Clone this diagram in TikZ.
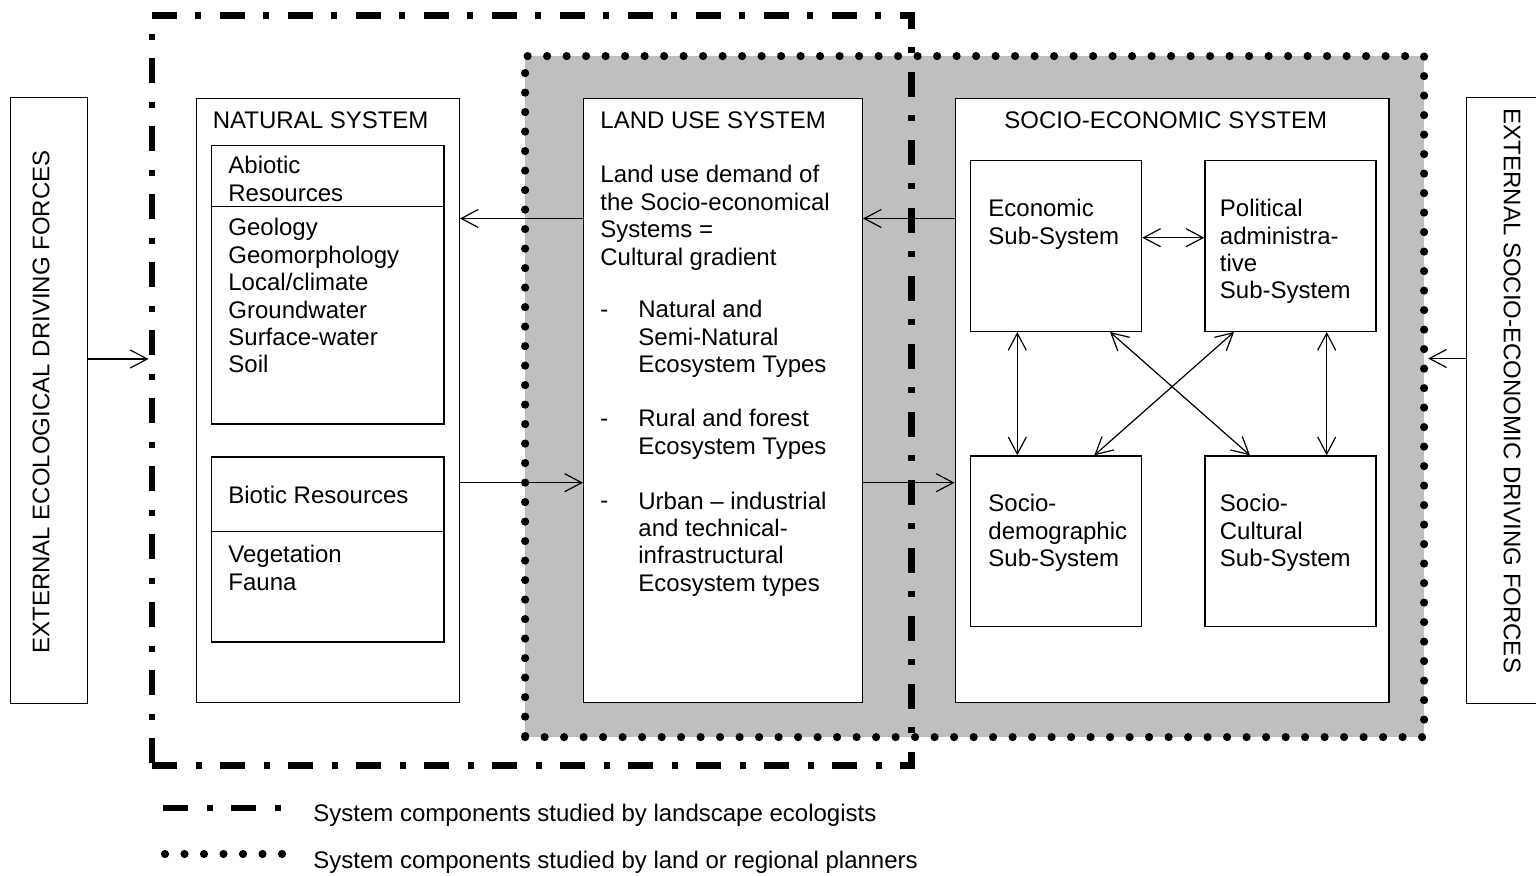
\documentclass[tikz,border=0pt]{standalone}
\usepackage{fontspec}
\setmainfont{Liberation Sans}
\usetikzlibrary{positioning, arrows.meta}

\begin{document}
\begin{tikzpicture}[
    x=0.5pt, y=-0.5pt,
    font=\fontsize{12}{13.7}\selectfont,
    box/.style={draw, line width=0.65pt, fill=white, inner sep=0pt, anchor=north west},
    subbox/.style={box, minimum width=85.5pt, minimum height=85.35pt},
    txt/.style={inner sep=0pt, anchor=base west, align=left},
    arrow/.style={-{Straight Barb[length=8.5pt, width=9pt]}, line width=0.6pt},
    twoway/.style={{Straight Barb[length=8.5pt, width=9pt]}-{Straight Barb[length=8.5pt, width=9pt]}, line width=0.6pt},
    ecoline/.style={line width=3.3pt, dash pattern=on 12.5pt off 9.5pt on 3pt off 9pt},
    planline/.style={line width=4.1pt, line cap=round, dash pattern=on 0pt off 9.75pt},
]
\useasboundingbox (0,0) rectangle (1536,876);
\clip (0,0) rectangle (1536,876);

% Study frames
\node[draw, planline, fill=black!25, inner sep=0pt, anchor=north west, minimum width=449.5pt, minimum height=340.5pt] (planfr) at (521,52) {};
\node[draw, ecoline, inner sep=0pt, anchor=north west, minimum width=379.75pt, minimum height=375pt] (ecofr) at (148.5,12) {};

% External driving forces
\node[box, minimum width=38.5pt, minimum height=303pt] (extL) at (10,97) {};
\node[rotate=90, inner sep=0pt] (extLT) at (41,402) {EXTERNAL ECOLOGICAL DRIVING FORCES};
\node[box, minimum width=40pt, minimum height=303pt] (extR) at (1466,97) {};
\node[rotate=-90, inner sep=0pt] (extRT) at (1512,391) {EXTERNAL SOCIO-ECONOMIC DRIVING FORCES};

% Natural system (text nodes sit on the baseline of their last line)
\node[box, minimum width=131.6pt, minimum height=301.75pt] (nat) at (195.5,98) {};
\node[txt] (natT) at (212.5,128.5) {NATURAL SYSTEM};
\node[box, minimum width=116.3pt, minimum height=139.2pt] (abio) at (210.7,145) {};
\node[txt] (abioT) at (228,201.4) {Abiotic\\Resources};
\node[txt] (abioL) at (228,373) {Geology\\Geomorphology\\Local/climate\\Groundwater\\Surface-water\\Soil};
\node[box, minimum width=116.3pt, minimum height=92.5pt, below right=15.85pt and 0pt of abio.south west] (bio) {};
\node[txt] (bioT) at (228,504) {Biotic Resources};
\node[txt] (bioL) at (228,590.1) {Vegetation\\Fauna};
\draw[line width=0.65pt] (abio.west |- 0,206.7) -- (abio.east |- 0,206.7);
\draw[line width=0.65pt] (bio.west |- 0,531.7) -- (bio.east |- 0,531.7);

% Land use system
\node[box, minimum width=139.35pt, minimum height=301.75pt] (land) at (583,98) {};
\node[txt] (landT) at (600,128.5) {LAND USE SYSTEM};
\node[txt] (demand) at (600,265.2) {Land use demand of\\the Socio-economical\\Systems =\\Cultural gradient};
\node[txt] (d1) at (600,318) {-};
\node[txt] (lu1) at (638,372.8) {Natural and\\Semi-Natural\\Ecosystem Types};
\node[txt] (d2) at (600,426.7) {-};
\node[txt] (lu2) at (638,454.1) {Rural and forest\\Ecosystem Types};
\node[txt] (d3) at (600,509) {-};
\node[txt] (lu3) at (638,591.2) {Urban – industrial\\and technical-\\infrastructural\\Ecosystem types};

% Socio-economic system
\node[box, minimum width=216.9pt, minimum height=301.75pt] (socio) at (954.5,98) {};
\node[txt] (socioT) at (1004,128.5) {SOCIO-ECONOMIC SYSTEM};
\node[subbox] (eco) at (970,160) {};
\node[subbox, right=31pt of eco] (pol) {};
\node[subbox, below=61.65pt of eco] (dem) {};
\node[subbox, below=61.65pt of pol] (cul) {};
\node[txt] (ecoT) at (988,244.1) {Economic\\Sub-System};
\node[txt] (polT) at (1219.5,298.9) {Political\\administra-\\tive\\Sub-System};
\node[txt] (demT) at (988,566.5) {Socio-\\demographic\\Sub-System};
\node[txt] (culT) at (1219.5,566.5) {Socio-\\Cultural\\Sub-System};

% Legend
\draw[ecoline] (163,808) -- (283,808);
\node[txt] (leg1) at (313,821.5) {System components studied by landscape ecologists};
\draw[planline] (165,854) -- (283,854);
\node[txt] (leg2) at (313,868) {System components studied by land or regional planners};

% Arrows
\draw[arrow] (extL.east |- 0,359) -- (ecofr.west |- 0,359);
\draw[arrow] (extR.west |- 0,358.5) -- (planfr.east |- 0,358.5);
\draw[arrow] (land.west |- 0,218.5) -- (nat.east |- 0,218.5);
\draw[arrow] (socio.west |- 0,218.5) -- (land.east |- 0,218.5);
\draw[arrow] (nat.east |- 0,482.7) -- (land.west |- 0,482.7);
\draw[arrow] (land.east |- 0,482.7) -- (socio.west |- 0,482.7);
\draw[twoway] (eco.east |- 0,237.7) -- (pol.west |- 0,237.7);
\draw[twoway] (eco.south -| 1017.3,0) -- (dem.north -| 1017.3,0);
\draw[twoway] (pol.south -| 1326.7,0) -- (cul.north -| 1326.7,0);
\draw[twoway] (eco.south -| 1110,0) -- (cul.north -| 1250,0);
\draw[twoway] (pol.south -| 1234,0) -- (dem.north -| 1094.3,0);

\end{tikzpicture}
\end{document}
